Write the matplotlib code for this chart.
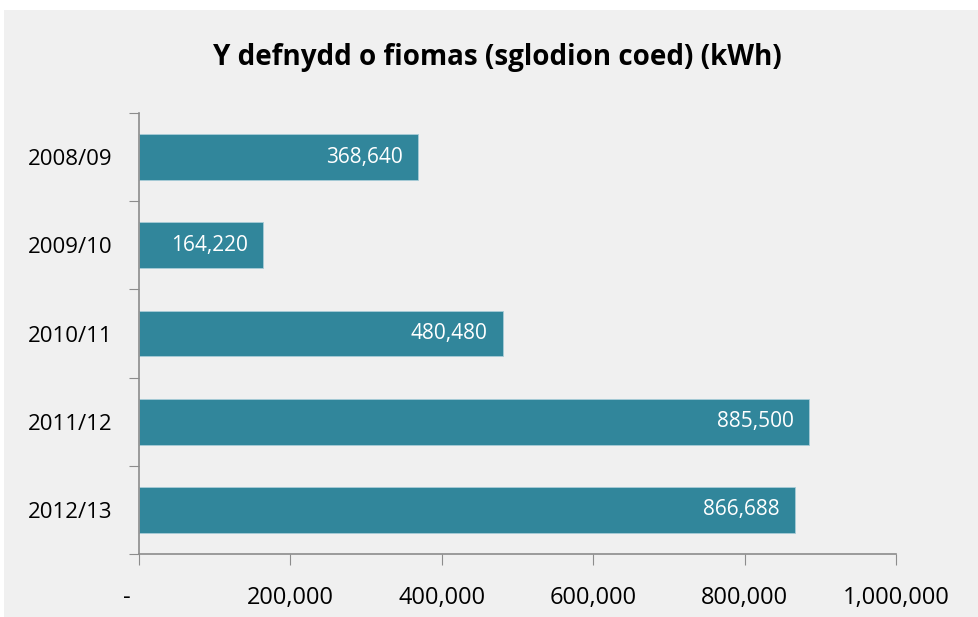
import matplotlib.pyplot as plt
from matplotlib.patches import Rectangle
from matplotlib.ticker import FuncFormatter

# data
years = ['2008/09', '2009/10', '2010/11', '2011/12', '2012/13']
kwh = [368640, 164220, 480480, 885500, 866688]
xticks = [0, 200000, 400000, 600000, 800000, 1000000]

plt.rcParams['font.family'] = ['Open Sans', 'DejaVu Sans']

fig = plt.figure(figsize=(9.79, 6.17), dpi=100, facecolor='white')
# grey chart area with a thin white margin on top/left
fig.patches.append(Rectangle((4 / 979, 0), 975 / 979, 607 / 617, transform=fig.transFigure,
                             facecolor='#f0f0f0', edgecolor='none', zorder=-5))

ax = fig.add_axes([139 / 979, 63 / 617, 757 / 979, 441 / 617])
ax.set_facecolor('none')

pos = list(range(len(years)))
bars = ax.barh(pos, kwh, height=0.52, color='#31869b', edgecolor='#a9cdd8', linewidth=0.6, zorder=2)

for p, v in zip(pos, kwh):
    ax.annotate(f'{v:,}', xy=(v, p), xytext=(-11, 0), textcoords='offset points',
                ha='right', va='center', color='white', fontsize=15)

ax.set_ylim(len(years) - 0.5, -0.5)
ax.set_yticks([p - 0.5 for p in pos] + [len(years) - 0.5])
ax.set_yticklabels([])
ax.set_yticks(pos, minor=True)
ax.set_yticklabels(years, minor=True, fontsize=16)
ax.tick_params(axis='y', which='minor', length=0, pad=19)
ax.tick_params(axis='y', which='major', length=7, color='#8c8c8c', direction='out')

ax.set_xlim(0, 1000000)
ax.set_xticks(xticks)
ax.xaxis.set_major_formatter(FuncFormatter(lambda x, _: '-    ' if x == 0 else f'{int(x):,}'))
ax.tick_params(axis='x', length=8, color='#8c8c8c', labelsize=17, pad=15)

for s in ['top', 'right']:
    ax.spines[s].set_visible(False)
for s in ['left', 'bottom']:
    ax.spines[s].set_color('#8c8c8c')
    ax.spines[s].set_linewidth(1.2)

fig.text(497 / 979, 1 - 58 / 617, 'Y defnydd o fiomas (sglodion coed) (kWh)',
         ha='center', va='center', fontsize=20, fontweight='bold')

fig.savefig('out.png', dpi=100, facecolor='white')
